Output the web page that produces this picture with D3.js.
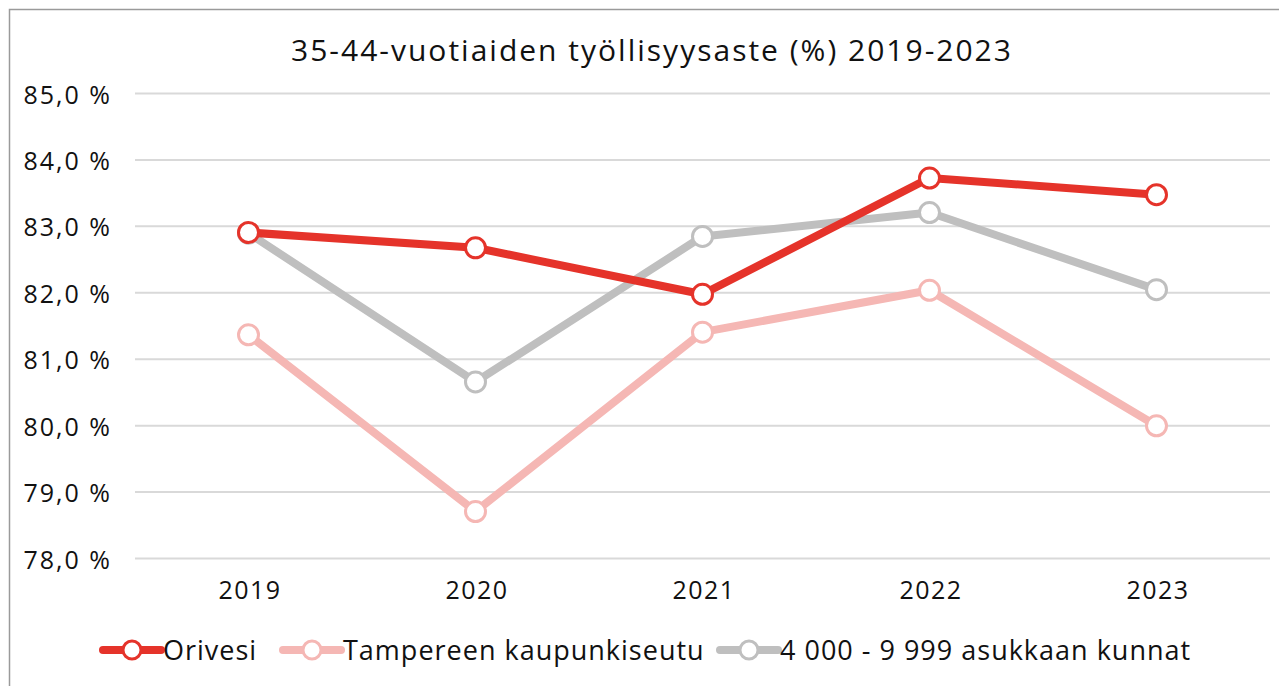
<!DOCTYPE html>
<html>
<head>
<meta charset="utf-8">
<script src="https://cdn.jsdelivr.net/npm/d3@7"></script>
<style>
  body { margin: 0; background: #fff; }
  svg text { font-family: "Open Sans", Lato, sans-serif; fill: #111; }
</style>
</head>
<body>
<div id="chart"></div>
<script>
// data
const years = ["2019", "2020", "2021", "2022", "2023"];
const orivesi = [82.9, 82.67, 81.97, 83.72, 83.47];
const tampereSeutu = [81.36, 78.7, 81.4, 82.03, 79.99];
const kunnat4000 = [82.89, 80.65, 82.84, 83.2, 82.04];
const yTicks = [78, 79, 80, 81, 82, 83, 84, 85];

const series = [
    { name: "Orivesi", values: orivesi, color: "#E5332A" },
    { name: "Tampereen kaupunkiseutu", values: tampereSeutu, color: "#F5B7B4" },
    { name: "4 000 - 9 999 asukkaan kunnat", values: kunnat4000, color: "#BFBFBF" }
];

const W = 1279, H = 686;
const svg = d3.select("#chart").append("svg")
    .attr("width", W).attr("height", H);

// kehys
svg.append("rect")
    .attr("x", 9.5).attr("y", 9.5)
    .attr("width", W).attr("height", H)
    .attr("fill", "none").attr("stroke", "#9a9a9a").attr("stroke-width", 1.5);

svg.append("text")
    .attr("x", 652).attr("y", 61)
    .attr("text-anchor", "middle")
    .style("font-size", "30px")
    .style("letter-spacing", "2px")
    .text("35-44-vuotiaiden työllisyysaste (%) 2019-2023");

const plotLeft = 135, plotRight = 1270, plotTop = 93, plotBottom = 558;

const x = d3.scalePoint().domain(years).range([plotLeft, plotRight]).padding(0.5);
const y = d3.scaleLinear().domain([78, 85]).range([plotBottom, plotTop]);

// gridlines + y axis
const yAxis = svg.append("g")
    .attr("transform", `translate(${plotLeft},0)`)
    .call(d3.axisLeft(y).tickValues(yTicks).tickSize(-(plotRight - plotLeft))
        .tickFormat(d => d3.format(".1f")(d).replace(".", ",") + " %"));
yAxis.select(".domain").remove();
yAxis.selectAll("line").attr("stroke", "#d9d9d9").attr("stroke-width", 2);
yAxis.selectAll("text").attr("x", -23).attr("dy", "0.4em")
    .style("font-size", "25px").style("letter-spacing", "2px");

const xAxis = svg.append("g")
    .attr("transform", `translate(0,${plotBottom})`)
    .call(d3.axisBottom(x).tickSize(0));
xAxis.select(".domain").remove();
xAxis.selectAll("text").attr("dy", "1.5em").attr("dx", "1px")
    .style("font-size", "25px").style("letter-spacing", "1.5px");

const line = d3.line().x((d, i) => x(years[i])).y(d => y(d));

// järjestys: vaaleanpunainen, harmaa, punainen päällimmäisenä
[series[1], series[2], series[0]].forEach(s => {
    svg.append("path")
        .datum(s.values)
        .attr("d", line)
        .attr("fill", "none")
        .attr("stroke", s.color)
        .attr("stroke-width", 8)
        .attr("stroke-linejoin", "round");
    svg.selectAll(null)
        .data(s.values)
        .enter()
        .append("circle")
        .attr("cx", (d, i) => x(years[i]))
        .attr("cy", d => y(d))
        .attr("r", 10)
        .attr("fill", "#fff")
        .attr("stroke", s.color)
        .attr("stroke-width", 3);
});

// legend
const legendX = [103, 283, 720];
series.forEach((s, i) => {
    const g = svg.append("g").attr("transform", `translate(${legendX[i]},650)`);
    g.append("line")
        .attr("x1", 0).attr("x2", 58)
        .attr("stroke", s.color).attr("stroke-width", 8).attr("stroke-linecap", "round");
    g.append("circle")
        .attr("cx", 29).attr("r", 9)
        .attr("fill", "#fff").attr("stroke", s.color).attr("stroke-width", 3);
    g.append("text")
        .attr("x", 60).attr("dy", "0.36em")
        .style("font-size", "27px")
        .style("letter-spacing", "1px")
        .text(s.name);
});
</script>
</body>
</html>
